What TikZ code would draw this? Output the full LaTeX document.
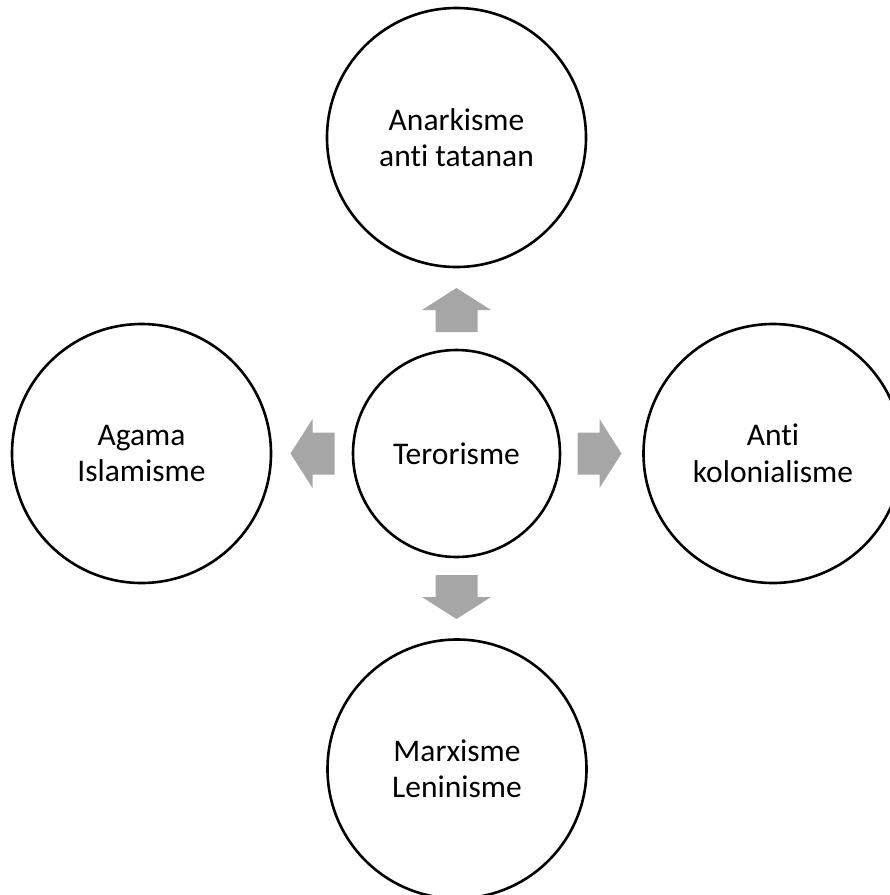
\documentclass[tikz,border=0pt]{standalone}
\usepackage{fontspec}
\setmainfont{Carlito}[Ligatures=NoCommon]
\definecolor{arrowgray}{HTML}{A6A6A6}
\tikzset{
  ring/.style={circle, draw=black, line width=2.6pt, fill=white, inner sep=0pt,
    align=center, font=\fontsize{31.5}{36.5}\selectfont},
  bigring/.style={ring, minimum size=259pt},
  smallring/.style={ring, minimum size=207pt},
  fatarrow/.pic={
    \fill[arrowgray] (0,-22) -- (34.5,0) -- (21,0) -- (21,22) -- (-21,22) -- (-21,0) -- (-34.5,0) -- cycle;
  }
}
\begin{document}
\begin{tikzpicture}[x=1pt, y=-1pt]
  \useasboundingbox (0,0) rectangle (890,895);
  \clip (0,0) rectangle (890,895);

  % hub and the four surrounding ideologies
  \node[smallring] (hub)   at (456.5,453.5) {Terorisme};
  \node[bigring]   (north) at (456.5,137.5) {Anarkisme\\anti tatanan};
  \node[bigring]   (south) at (457,769)     {Marxisme\\Leninisme};
  \node[bigring]   (west)  at (141.5,453.5) {Agama\\Islamisme};
  \node[bigring]   (east)  at (773,453.5)   {Anti\\kolonialisme};

  % block arrows pointing outward from the hub
  \pic[rotate=0]   at (456.5,310)   {fatarrow};
  \pic[rotate=180] at (456.5,597)   {fatarrow};
  \pic[rotate=90]  at (312.5,453.5) {fatarrow};
  \pic[rotate=-90] at (599.5,453.5) {fatarrow};
\end{tikzpicture}
\end{document}
